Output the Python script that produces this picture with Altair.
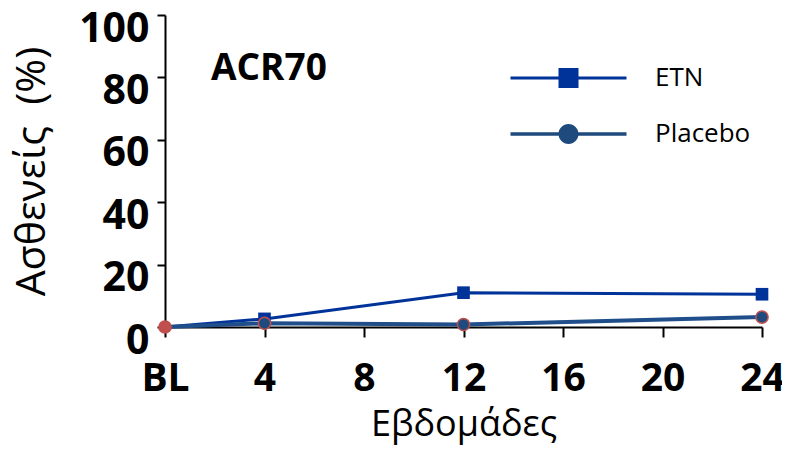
import altair as alt
import pandas as pd

weeks = [0, 4, 12, 24]
etn = [0, 2.6, 11, 10.5]
placebo = [0, 1.2, 0.8, 3.2]
series = ["ETN", "Placebo"]
x_ticks = [0, 4, 8, 12, 16, 20, 24]
y_ticks = [0, 20, 40, 60, 80, 100]

ETN_C = "#003399"
PLA_C = "#1F4E8A"
PLA_FILL = "#1F4A7D"
RED = "#C0504D"
FONT = "Open Sans"

df_etn = pd.DataFrame({"week": weeks, "value": etn, "series": "ETN"})
df_pla = pd.DataFrame({"week": weeks, "value": placebo, "series": "Placebo"})
df_all = pd.concat([df_etn, df_pla], ignore_index=True)

x = alt.X("week:Q",
          scale=alt.Scale(domain=[0, 24], nice=False, zero=False),
          axis=alt.Axis(values=x_ticks, labelExpr="datum.value == 0 ? 'BL' : datum.label",
                        title="Εβδομάδες", grid=False, domainColor="black", domainWidth=2,
                        tickColor="black", tickWidth=2, tickSize=10,
                        labelFont=FONT, labelFontSize=39, labelFontWeight="bold",
                        labelColor="black", labelPadding=22, labelFlush=False,
                        titleFont=FONT, titleFontSize=36, titleFontWeight="normal",
                        titleColor="black", titlePadding=9))
y = alt.Y("value:Q",
          scale=alt.Scale(domain=[0, 100], nice=False),
          axis=alt.Axis(values=y_ticks, title="Ασθενείς\u00a0\u00a0(%)", grid=False,
                        domainColor="black", domainWidth=2, tickColor="black",
                        tickWidth=2, tickSize=8, labelFont=FONT, labelFontSize=41,
                        labelFontWeight="bold", labelColor="black", labelPadding=8,
                        labelBaseline="middle", labelOffset=14, labelFlush=False,
                        titleFont=FONT, titleFontSize=41, titleFontWeight="normal",
                        titleColor="black", titlePadding=25))

etn_line = alt.Chart(df_etn).mark_line(color=ETN_C, strokeWidth=3).encode(x=x, y=y)
etn_pts = alt.Chart(df_etn).transform_filter("datum.week > 0").mark_square(
    color=ETN_C, size=160, opacity=1).encode(x=x, y=y)
pla_line = alt.Chart(df_pla).mark_line(color=PLA_C, strokeWidth=4).encode(x=x, y=y)
pla_pts = alt.Chart(df_pla).mark_circle(size=150, opacity=1, stroke=RED, strokeWidth=1.5).encode(
    x=x, y=y,
    fill=alt.condition("datum.week == 0", alt.value(RED), alt.value(PLA_FILL)))

sq_path = "M-2.9,-0.08H2.9V0.08H-2.9Z M-0.5,-0.5H0.5V0.5H-0.5Z"
ci_path = "M-2.9,-0.09H2.9V0.09H-2.9Z M-0.5,0A0.5,0.5 0 1,1 0.5,0A0.5,0.5 0 1,1 -0.5,0Z"

legend_layer = alt.Chart(df_all).transform_filter("false").mark_point(
    filled=True, opacity=1).encode(
    color=alt.Color("series:N", scale=alt.Scale(domain=series, range=[ETN_C, PLA_FILL]),
                    legend=alt.Legend(title=None)),
    shape=alt.Shape("series:N", scale=alt.Scale(domain=series, range=[sq_path, ci_path]),
                    legend=alt.Legend(title=None)),
)

chart = alt.layer(etn_line, etn_pts, pla_line, pla_pts, legend_layer).properties(
    width=597, height=312,
    title=alt.TitleParams("ACR70", anchor="start", frame="group", orient="top",
                          fontSize=37, font=FONT, fontWeight="bold", color="black",
                          baseline="alphabetic", offset=0, dx=46, dy=109),
    autosize=alt.AutoSizeParams(type="none"),
    padding={"left": 157, "top": 7, "right": 20, "bottom": 118},
).configure_view(stroke=None).configure_legend(
    orient="none", legendX=383.5, legendY=43, symbolSize=1600, labelOffset=66.5,
    rowPadding=23, padding=0, labelFont=FONT, labelFontSize=26, labelColor="black",
    symbolStrokeWidth=0, labelBaseline="middle"
)

chart.save("out.html", embed_options={"renderer": "svg", "actions": False})
